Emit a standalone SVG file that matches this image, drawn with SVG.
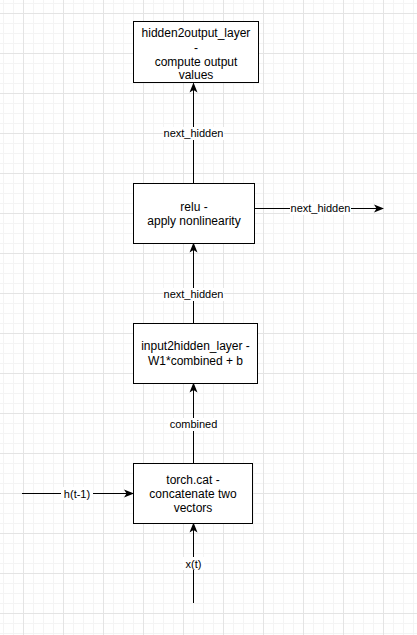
<svg xmlns="http://www.w3.org/2000/svg" width="417" height="635" viewBox="0 0 417 635">
<defs>
<pattern id="grid" patternUnits="userSpaceOnUse" x="3" y="3" width="40" height="40">
<path d="M0.5 0V40M10.5 0V40M30.5 0V40M0 0.5H40M0 20.5H40M0 30.5H40" stroke="#f4f4f4" stroke-width="1" fill="none"/>
<path d="M20.5 0V40M0 10.5H40" stroke="#e4e4e4" stroke-width="1" fill="none"/>
</pattern>
<marker id="arr" viewBox="0 0 10 10" refX="9" refY="5" markerWidth="10" markerHeight="10" markerUnits="userSpaceOnUse" orient="auto">
<path d="M0 1 L10 5 L0 9 L2.5 5 Z" fill="#000"/>
</marker>
<style>
.box{fill:#fff;stroke:#000;stroke-width:1}
.t{font-family:"Liberation Sans",Arial,sans-serif;font-size:12px;fill:#000;text-anchor:middle}
.l{font-family:"Liberation Sans",Arial,sans-serif;font-size:11px;fill:#000;text-anchor:middle}
.e{stroke:#000;stroke-width:1;fill:none;marker-end:url(#arr)}
.lb{fill:#fff}
</style>
</defs>
<rect width="417" height="635" fill="#fff"/>
<rect width="417" height="635" fill="url(#grid)"/>
<g id="connectors">
<path class="e" d="M193.5 603V523.5"/>
<rect class="lb" x="183" y="557" width="21" height="13"/>
<text class="l" x="193.5" y="568">x(t)</text>
<path class="e" d="M22 493.5H133"/>
<rect class="lb" x="61" y="487" width="32" height="13"/>
<text class="l" x="77" y="497.5">h(t-1)</text>
<path class="e" d="M193.5 463V383.5"/>
<rect class="lb" x="168" y="418" width="51" height="13"/>
<text class="l" x="193.5" y="428">combined</text>
<path class="e" d="M193.5 323V243.5"/>
<rect class="lb" x="163" y="288" width="61" height="13"/>
<text class="l" x="193.5" y="298">next_hidden</text>
<path class="e" d="M193.5 183V83.5"/>
<rect class="lb" x="163" y="127" width="61" height="13"/>
<text class="l" x="193.5" y="137">next_hidden</text>
<path class="e" d="M255 208.5H383"/>
<rect class="lb" x="290" y="202" width="61" height="13"/>
<text class="l" x="320.5" y="212">next_hidden</text>
</g>
<g id="hidden2output">
<rect class="box" x="133.5" y="21.5" width="125" height="61"/>
<text class="t" x="196" y="37">hidden2output_layer</text>
<text class="t" x="196" y="52">-</text>
<text class="t" x="196" y="66">compute output</text>
<text class="t" x="196" y="79">values</text>
</g>
<g id="relu">
<rect class="box" x="133.5" y="183.5" width="121" height="60"/>
<text class="t" x="194" y="211">relu -</text>
<text class="t" x="194" y="225">apply nonlinearity</text>
</g>
<g id="input2hidden">
<rect class="box" x="133.5" y="323.5" width="124" height="60"/>
<text class="t" x="195.5" y="350">input2hidden_layer -</text>
<text class="t" x="195.5" y="365">W1*combined + b</text>
</g>
<g id="torchcat">
<rect class="box" x="133.5" y="463.5" width="119" height="60"/>
<text class="t" x="193" y="484">torch.cat -</text>
<text class="t" x="193" y="498">concatenate two</text>
<text class="t" x="193" y="512">vectors</text>
</g>
</svg>
